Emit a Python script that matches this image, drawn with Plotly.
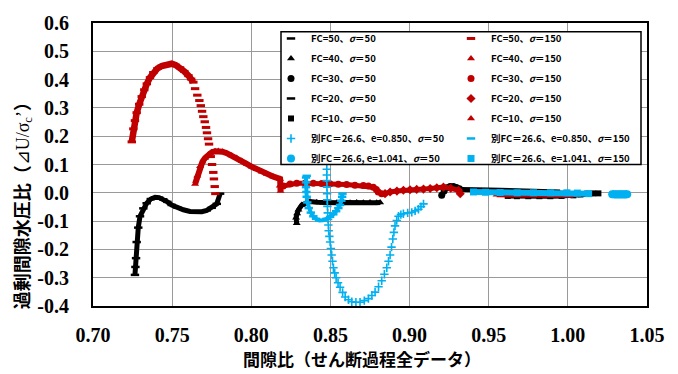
import plotly.graph_objects as go

BLACK = "#000000"
RED = "#C00000"
CYAN = "#00B0F0"

# ---------------- tick labels ----------------
x_tick_vals = [0.70, 0.75, 0.80, 0.85, 0.90, 0.95, 1.00, 1.05]
x_tick_text = ["0.70", "0.75", "0.80", "0.85", "0.90", "0.95", "1.00", "1.05"]
y_tick_vals = [-0.4, -0.3, -0.2, -0.1, 0.0, 0.1, 0.2, 0.3, 0.4, 0.5, 0.6]
y_tick_text = ["-0.4", "-0.3", "-0.2", "-0.1", "0.0", "0.1", "0.2", "0.3", "0.4", "0.5", "0.6"]

# ---------------- series (void ratio e, excess pore pressure ratio u) ----------------
# sigma = 50 (black)
fc50_s50_e = [0.7265, 0.7268, 0.7272, 0.7276, 0.7286, 0.7297, 0.7318, 0.7339, 0.7365, 0.7392, 0.7418,
              0.7444, 0.7470, 0.7497, 0.7534, 0.7571, 0.7613, 0.7655, 0.7687, 0.7719, 0.7750, 0.7782, 0.7803]
fc50_s50_u = [-0.290, -0.262, -0.231, -0.174, -0.123, -0.083, -0.055, -0.037, -0.022, -0.016, -0.017,
              -0.023, -0.032, -0.043, -0.053, -0.060, -0.066, -0.069, -0.067, -0.062, -0.053, -0.039, -0.003]

fc40_s50_e = [0.8287, 0.8283, 0.8290, 0.8298, 0.8319, 0.8345, 0.8371, 0.8414, 0.8456, 0.8498, 0.8540,
              0.8582, 0.8624, 0.8666, 0.8708, 0.8750, 0.8792, 0.8814]
fc40_s50_u = [-0.108, -0.088, -0.073, -0.060, -0.043, -0.035, -0.031, -0.033, -0.035, -0.034, -0.035,
              -0.034, -0.035, -0.034, -0.035, -0.034, -0.035, -0.034]

fc30_s50_e = [0.9203, 0.9218, 0.9235, 0.9256, 0.9277, 0.9296, 0.9315]
fc30_s50_u = [-0.009, 0.006, 0.018, 0.022, 0.022, 0.019, 0.014]

fc20_s50_e = [0.9330, 0.9362, 0.9420, 0.9500, 0.9572, 0.9650, 0.9720, 0.9783, 0.9850, 0.9910, 0.9951]
fc20_s50_u = [0.012, 0.011, 0.010, 0.010, 0.009, 0.008, 0.007, 0.006, 0.005, 0.004, 0.003]

fc10_s50_e = [0.9620, 0.9678, 0.9750, 0.9820, 0.9889, 0.9960, 1.0035, 1.0080, 1.0120, 1.0160, 1.0193]
fc10_s50_u = [-0.011, -0.012, -0.012, -0.012, -0.012, -0.011, -0.009, -0.006, -0.003, -0.002, -0.002]

# sigma = 150 (red)
fc50_s150_e = [0.7245, 0.7255, 0.7265, 0.7276, 0.7292, 0.7308, 0.7324, 0.7340, 0.7360, 0.7381,
               0.7407, 0.7434, 0.7465, 0.7497, 0.7523, 0.7550, 0.7577, 0.7603, 0.7620, 0.7634]
fc50_s150_u = [0.180, 0.226, 0.255, 0.283, 0.313, 0.340, 0.364, 0.385, 0.407, 0.425,
               0.439, 0.448, 0.454, 0.456, 0.451, 0.442, 0.429, 0.414, 0.402, 0.391]
fc50_s150_tail_e = [0.7645, 0.7659, 0.7672, 0.7681, 0.7689, 0.7697, 0.7706, 0.7714, 0.7720,
                    0.7727, 0.7733, 0.7744, 0.7752, 0.7760, 0.7764, 0.7769, 0.7773]
fc50_s150_tail_u = [0.368, 0.345, 0.326, 0.308, 0.288, 0.269, 0.251, 0.231, 0.212,
                    0.191, 0.172, 0.128, 0.100, 0.072, 0.049, 0.022, -0.003]

fc40_s150_e = [0.7645, 0.7659, 0.7676, 0.7692, 0.7708, 0.7729, 0.7750, 0.7771, 0.7792, 0.7818, 0.7845,
               0.7876, 0.7908, 0.7940, 0.7971, 0.8003, 0.8034, 0.8066, 0.8098, 0.8140, 0.8182, 0.8180, 0.8185]
fc40_s150_u = [0.031, 0.060, 0.094, 0.110, 0.123, 0.135, 0.143, 0.147, 0.148, 0.145, 0.140,
               0.132, 0.123, 0.112, 0.102, 0.092, 0.083, 0.074, 0.066, 0.057, 0.049, 0.025, 0.006]

fc30_s150_e = [0.8202, 0.8245, 0.8287, 0.8340, 0.8392, 0.8445, 0.8497, 0.8550, 0.8602, 0.8655,
               0.8708, 0.8740, 0.8771, 0.8790, 0.8802, 0.8824]
fc30_s150_u = [0.024, 0.031, 0.034, 0.034, 0.034, 0.033, 0.032, 0.030, 0.029, 0.027,
               0.026, 0.024, 0.020, 0.012, 0.003, -0.003]

fc20_s150_e = [0.8845, 0.8877, 0.8920, 0.8961, 0.9003, 0.9045, 0.9088, 0.9130, 0.9172, 0.9214,
               0.9260, 0.9309, 0.9320]
fc20_s150_u = [-0.003, 0.003, 0.006, 0.009, 0.011, 0.012, 0.013, 0.015, 0.018, 0.020,
               0.016, 0.009, -0.003]

fc10_s150_e = [0.9550, 0.9620, 0.9690, 0.9760, 0.9830, 0.9900, 0.9970, 1.0035]
fc10_s150_u = [-0.007, -0.008, -0.008, -0.009, -0.009, -0.009, -0.009, -0.009]

# separate sample FC=26.6 (cyan)
b850_s50_e = [0.8477, 0.8477, 0.8477, 0.8478, 0.8479, 0.8480, 0.8481, 0.8483, 0.8485, 0.8487,
              0.8489, 0.8493, 0.8498, 0.8503, 0.8508, 0.8513, 0.8519, 0.8527, 0.8536, 0.8548,
              0.8561, 0.8577, 0.8593, 0.8614, 0.8635, 0.8661, 0.8687, 0.8714, 0.8740, 0.8762,
              0.8782, 0.8804, 0.8824, 0.8841, 0.8856, 0.8867, 0.8877, 0.8886, 0.8894, 0.8901,
              0.8908, 0.8919, 0.8930, 0.8945, 0.8961, 0.8988, 0.9014, 0.9035, 0.9056, 0.9072, 0.9088]
b850_s50_u = [0.083, 0.063, 0.043, 0.020, -0.003, -0.025, -0.048, -0.071, -0.094, -0.114,
              -0.134, -0.154, -0.174, -0.197, -0.220, -0.242, -0.265, -0.283, -0.300, -0.318,
              -0.334, -0.352, -0.368, -0.378, -0.385, -0.387, -0.387, -0.381, -0.374, -0.363,
              -0.351, -0.332, -0.311, -0.288, -0.265, -0.242, -0.220, -0.192, -0.163, -0.140,
              -0.117, -0.098, -0.083, -0.077, -0.074, -0.071, -0.069, -0.064, -0.058, -0.049, -0.039]

b850_s150_e = [0.8350, 0.8346, 0.8346, 0.8346, 0.8348, 0.8350, 0.8354, 0.8363, 0.8376, 0.8392, 0.8409,
               0.8430, 0.8452, 0.8475, 0.8498, 0.8518, 0.8536, 0.8550, 0.8561, 0.8569, 0.8574, 0.8576]
b850_s150_u = [0.060, 0.054, 0.037, 0.020, 0.003, -0.014, -0.034, -0.054, -0.070, -0.083, -0.092,
               -0.098, -0.097, -0.092, -0.085, -0.076, -0.065, -0.054, -0.043, -0.028, -0.014, -0.003]

b1041_s50_e = [1.0280, 1.0300, 1.0320, 1.0340, 1.0360, 1.0375]
b1041_s50_u = [-0.005, -0.006, -0.006, -0.006, -0.006, -0.005]

b1041_s150_e = [0.9404, 0.9480, 0.9572, 0.9680, 0.9783, 0.9890, 0.9994, 1.0060, 1.0131]
b1041_s150_u = [0.003, 0.002, 0.001, 0.000, 0.000, 0.000, 0.000, -0.001, -0.003]

S50 = "<i>σ</i>＝50"
S150 = "<i>σ</i>＝150"

fig = go.Figure()


def add_series(name, legend, xs, ys, color, symbol, msize, lw=None, mline=0):
    grp = name
    if lw:
        fig.add_trace(go.Scatter(x=xs, y=ys, mode="lines", showlegend=False,
                                 legendgroup=grp, legend=legend, hoverinfo="skip",
                                 line=dict(color=color, width=lw)))
    fig.add_trace(go.Scatter(
        x=xs, y=ys, mode="markers", name=name, legend=legend, legendgroup=grp,
        marker=dict(symbol=symbol, size=msize, color=color,
                    line=dict(color=color, width=mline))))


# black (sigma=50)
add_series("FC=50、" + S50, "legend", fc50_s50_e, fc50_s50_u, BLACK, "line-ew", 6, lw=5, mline=2.5)
add_series("FC=40、" + S50, "legend", fc40_s50_e, fc40_s50_u, BLACK, "triangle-up", 7, lw=5)
add_series("FC=30、" + S50, "legend", fc30_s50_e, fc30_s50_u, BLACK, "circle", 7, lw=5)
add_series("FC=20、" + S50, "legend", fc20_s50_e, fc20_s50_u, BLACK, "line-ew", 6, lw=5, mline=2.5)
add_series("FC=10、" + S50, "legend", fc10_s50_e, fc10_s50_u, BLACK, "square", 6, lw=5)

# red (sigma=150)
fig.add_trace(go.Scatter(x=fc50_s150_e, y=fc50_s150_u, mode="lines", showlegend=False,
                         hoverinfo="skip", line=dict(color=RED, width=6.5)))
fig.add_trace(go.Scatter(x=fc50_s150_e + fc50_s150_tail_e, y=fc50_s150_u + fc50_s150_tail_u,
                         mode="markers", name="FC=50、" + S150, legend="legend2",
                         legendgroup="r50",
                         marker=dict(symbol="line-ew", size=6, color=RED,
                                     line=dict(color=RED, width=3))))
add_series("FC=40、" + S150, "legend2", fc40_s150_e, fc40_s150_u, RED, "triangle-up", 7, lw=6)
add_series("FC=30、" + S150, "legend2", fc30_s150_e, fc30_s150_u, RED, "circle", 7, lw=5)
add_series("FC=20、" + S150, "legend2", fc20_s150_e, fc20_s150_u, RED, "diamond", 7, lw=5)
add_series("FC=10、" + S150, "legend2", fc10_s150_e, fc10_s150_u, RED, "triangle-up", 7, lw=5)

# cyan (separate sample)
add_series("別FC＝26.6、e=0.850、" + S50, "legend", b850_s50_e, b850_s50_u, CYAN,
           "cross-thin", 6, mline=1.6)
add_series("別FC＝26.6、e=0.850、" + S150, "legend2", b850_s150_e, b850_s150_u, CYAN,
           "line-ew", 6, lw=4, mline=2.5)
add_series("別FC＝26.6, e=1.041、" + S50, "legend", b1041_s50_e, b1041_s50_u, CYAN,
           "circle", 8, lw=8)
add_series("別FC＝26.6、e=1.041、" + S150, "legend2", b1041_s150_e, b1041_s150_u, CYAN,
           "square", 7, lw=6)

L, R, T, B = 93, 31, 14, 68
W, H = 678, 374
PW, PH = W - L - R, H - T - B


def px_x(p):
    return (p - L) / PW


def px_y(p):
    return (H - B - p) / PH


legend_font = dict(family="Noto Sans CJK JP", size=9.5, color="black", weight="bold")
leg_common = dict(bgcolor="rgba(0,0,0,0)", borderwidth=0, font=legend_font,
                  tracegroupgap=1, xanchor="left", yanchor="top", orientation="v",
                  itemclick=False, itemdoubleclick=False)

fig.update_layout(
    width=W, height=H, autosize=False,
    margin=dict(l=L, r=R, t=T, b=B, pad=0),
    paper_bgcolor="white", plot_bgcolor="white",
    showlegend=True,
    legend=dict(x=px_x(271), y=px_y(15), **leg_common),
    legend2=dict(x=px_x(451), y=px_y(15), **leg_common),
    shapes=[dict(type="rect", xref="paper", yref="paper",
                 x0=px_x(281), x1=px_x(641), y0=px_y(160), y1=px_y(23),
                 fillcolor="white", line=dict(color="black", width=1.5), layer="above")],
    annotations=[
        dict(text="間隙比（せん断過程全データ）", xref="paper", yref="paper",
             x=px_x(362), y=px_y(360), xanchor="center", yanchor="middle", showarrow=False,
             font=dict(family="Noto Sans CJK JP", size=17, color="black", weight="bold")),
        dict(text="過剰間隙水圧比（<span style='font-family:Liberation Serif;font-weight:normal'>⊿U/σ<sub>c</sub>’</span>）",
             xref="paper", yref="paper", textangle=-90,
             x=px_x(22), y=px_y(198), xanchor="center", yanchor="middle", showarrow=False,
             font=dict(family="Noto Sans CJK JP", size=18, color="black", weight="bold")),
    ],
)

axis_font = dict(family="Liberation Serif", size=20, color="black", weight="bold")
fig.update_xaxes(range=[0.70, 1.05], tickvals=x_tick_vals, ticktext=x_tick_text,
                 showgrid=True, gridcolor="#9a9a9a", gridwidth=1.3, zeroline=False,
                 showline=True, linecolor="black", linewidth=2, mirror=True,
                 ticks="", tickfont=axis_font, ticklabelstandoff=10)
fig.update_yaxes(range=[-0.4, 0.6], tickvals=y_tick_vals, ticktext=y_tick_text,
                 showgrid=True, gridcolor="#9a9a9a", gridwidth=1.3, zeroline=False,
                 showline=True, linecolor="black", linewidth=2, mirror=True,
                 ticks="", tickfont=axis_font, ticklabelstandoff=18)

fig.write_html("out.html", config={"displayModeBar": False},
               post_script="document.body.style.margin='0';")
